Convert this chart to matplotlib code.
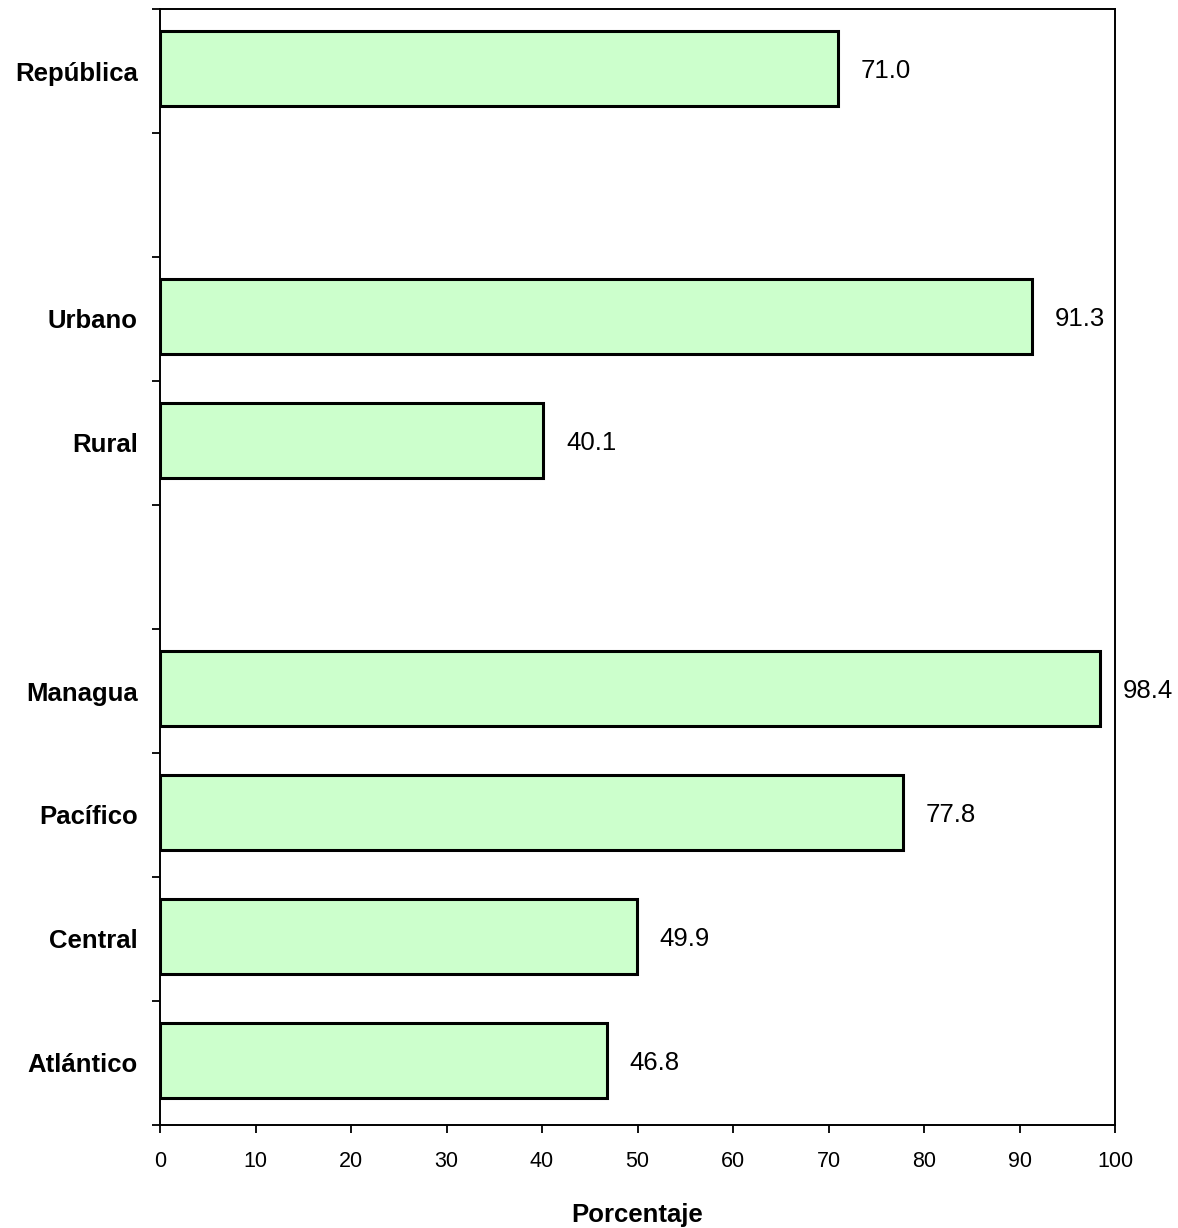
import matplotlib.pyplot as plt
import numpy as np

plt.rcParams['font.family'] = ['Liberation Sans', 'DejaVu Sans']

# datos
categorias = ['República', 'Urbano', 'Rural', 'Managua', 'Pacífico', 'Central', 'Atlántico']
porcentajes = [71.0, 91.3, 40.1, 98.4, 77.8, 49.9, 46.8]
grupos = [0, 1, 1, 2, 2, 2, 2]  # bloques separados por un espacio vacío
ticks_x = [0, 10, 20, 30, 40, 50, 60, 70, 80, 90, 100]

fig = plt.figure(figsize=(11.78, 12.28), dpi=100)
ax = fig.add_axes([160 / 1178, 1 - 1125 / 1228, 955 / 1178, 1116 / 1228])

pos = np.arange(len(categorias)) + np.array(grupos)
ax.barh(pos - 0.02, porcentajes, height=0.6, color='#CCFFCC', edgecolor='black', linewidth=2.2, zorder=2)

for p, v in zip(pos, porcentajes):
    ax.text(v + 2.4, p, f'{v:.1f}', va='center', ha='left', fontsize=18.5, clip_on=False)

n_slots = pos.max() + 1
ax.set_ylim(n_slots - 0.5, -0.5)
ax.set_xlim(0, 100)

ax.set_yticks(pos)
ax.set_yticklabels(categorias, fontsize=18.5, fontweight='bold')
ax.tick_params(axis='y', which='major', length=0, pad=16)
ax.set_yticks(np.arange(-0.5, n_slots, 1.0), minor=True)
ax.tick_params(axis='y', which='minor', length=6, width=1.3, direction='out')

ax.set_xticks(ticks_x)
ax.tick_params(axis='x', length=6, width=1.3, direction='out', labelsize=15.5, pad=13)

for s in ax.spines.values():
    s.set_linewidth(1.4)

ax.set_xlabel('Porcentaje', fontsize=18.5, fontweight='bold', labelpad=22)

plt.savefig('out.png', dpi=100)
